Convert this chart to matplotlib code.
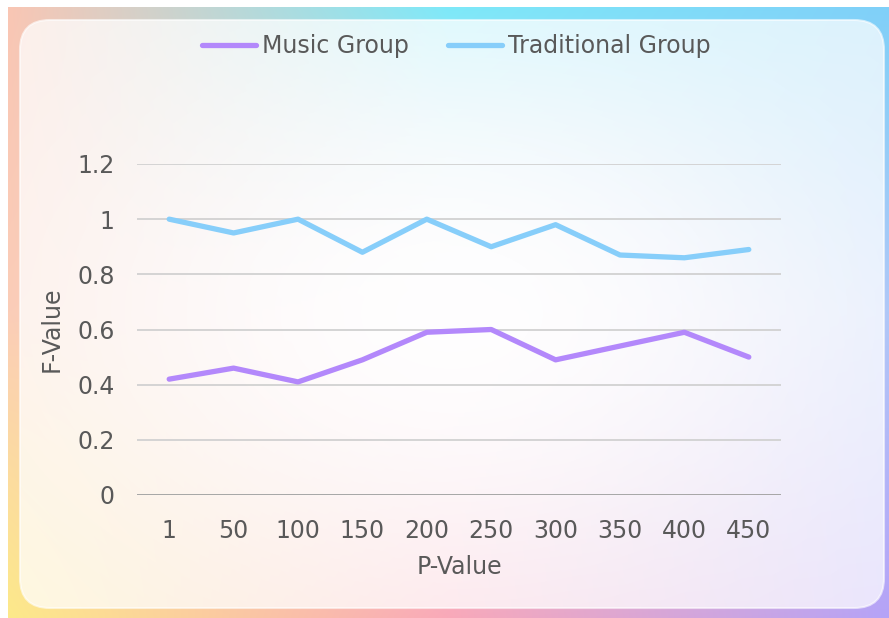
"""
Figure: F-Value by P-Value, music group vs traditional group
"""
# --------------------------------------------------------------------------------
# 1.Import modular
# --------------------------------------------------------------------------------
import matplotlib.pyplot as plt
import numpy as np
from matplotlib.colors import to_rgb
from matplotlib.patches import FancyBboxPatch


# --------------------------------------------------------------------------------
# 2.Define variable
# --------------------------------------------------------------------------------
# data
P_VALUES = ["1", "50", "100", "150", "200", "250", "300", "350", "400", "450"]
MUSIC_GROUP = [0.42, 0.46, 0.41, 0.49, 0.59, 0.60, 0.49, 0.54, 0.59, 0.50]
TRADITIONAL_GROUP = [1.00, 0.95, 1.00, 0.88, 1.00, 0.90, 0.98, 0.87, 0.86, 0.89]
SERIES_NAMES = ["Music Group", "Traditional Group"]
Y_TICKS = [0, 0.2, 0.4, 0.6, 0.8, 1.0, 1.2]
Y_TICK_LABELS = ["0", "0.2", "0.4", "0.6", "0.8", "1", "1.2"]

# plot
COLOR_MUSIC = "#b388fb"
COLOR_TRADITIONAL = "#87cefa"
COLOR_TEXT = "#595959"
COLOR_GRID = "#d4d4d4"
COLOR_AXIS = "#a6a6a6"
FONT_SIZE = 17
PLOT_DPI = 100
PLOT_W = 889
PLOT_H = 618

# background gradient (3x3 grid, rows top->bottom, cols left->right)
BG_GRID = [["#f9c6b4", "#7ee9f9", "#80d0f8"],
           ["#fbcdb8", "#f2d6e6", "#b0c8f8"],
           ["#fde98a", "#f9a9b9", "#b5a3f7"]]


# --------------------------------------------------------------------------------
# 3.Define function
# --------------------------------------------------------------------------------
def make_gradient(nx, ny):
    grid = np.array([[to_rgb(c) for c in row] for row in BG_GRID])
    xs = np.linspace(0, 1, nx)
    ys = np.linspace(0, 1, ny)
    knots = [0, 0.5, 1]
    img = np.zeros((ny, nx, 3))
    for ch in range(3):
        rows = np.array([np.interp(xs, knots, grid[r, :, ch]) for r in range(3)])
        for i in range(nx):
            img[:, i, ch] = np.interp(ys, knots, rows[:, i])
    return img


def draw_background(fig):
    bg = fig.add_axes([0, 0, 1, 1], zorder=0)
    bg.set_xlim(0, PLOT_W)
    bg.set_ylim(PLOT_H, 0)
    bg.axis("off")

    bg.imshow(make_gradient(300, 220), extent=(8, PLOT_W, PLOT_H, 7),
              aspect="auto", interpolation="bilinear")

    # rounded translucent panel
    px, py, pw, ph = 20, 20, 864, 588
    panel = FancyBboxPatch((px, py), pw, ph, boxstyle="round,pad=0,rounding_size=30",
                           facecolor="none", edgecolor=(1, 1, 1, 0.6), linewidth=1.5)
    bg.add_patch(panel)

    u = np.linspace(0, 1, 300)[None, :]
    v = np.linspace(0, 1, 220)[:, None]
    alpha = 0.72 + 0.26 * np.exp(-((u - 0.5) / 0.38) ** 2 - ((v - 0.5) / 0.38) ** 2)
    overlay = np.ones((220, 300, 4))
    overlay[..., 3] = alpha
    im = bg.imshow(overlay, extent=(px, px + pw, py + ph, py), aspect="auto",
                   interpolation="bilinear")
    im.set_clip_path(panel)


def draw_chart():
    fig = plt.figure(figsize=(PLOT_W / PLOT_DPI, PLOT_H / PLOT_DPI), dpi=PLOT_DPI)
    draw_background(fig)

    ax = fig.add_axes([137 / PLOT_W, 1 - 495 / PLOT_H, 644 / PLOT_W, 331 / PLOT_H], zorder=2)
    ax.patch.set_alpha(0)

    x = np.arange(len(P_VALUES))
    l1, = ax.plot(x, MUSIC_GROUP, color=COLOR_MUSIC, linewidth=3.8,
                  solid_capstyle="round", solid_joinstyle="round", zorder=3)
    l2, = ax.plot(x, TRADITIONAL_GROUP, color=COLOR_TRADITIONAL, linewidth=3.8,
                  solid_capstyle="round", solid_joinstyle="round", zorder=3)

    # axes setting
    ax.set_xlim(-0.5, len(P_VALUES) - 0.5)
    ax.set_ylim(0, 1.2)
    ax.set_xticks(x)
    ax.set_xticklabels(P_VALUES)
    ax.set_yticks(Y_TICKS)
    ax.set_yticklabels(Y_TICK_LABELS)
    ax.tick_params(axis="both", length=0, labelsize=FONT_SIZE, labelcolor=COLOR_TEXT)
    ax.tick_params(axis="x", pad=17)
    ax.tick_params(axis="y", pad=16)
    for s in ax.spines.values():
        s.set_visible(False)
    for yv in Y_TICKS[1:]:
        ax.axhline(yv, color=COLOR_GRID, linewidth=1.4, zorder=1)
    ax.axhline(0, color=COLOR_AXIS, linewidth=1.4, zorder=1)

    ax.set_xlabel("P-Value", fontsize=FONT_SIZE, color=COLOR_TEXT, labelpad=9)
    ax.set_ylabel("F-Value", fontsize=FONT_SIZE, color=COLOR_TEXT, labelpad=10)

    # legend
    fig.legend([l1, l2], SERIES_NAMES, loc="center", bbox_to_anchor=(456.5 / PLOT_W, 1 - 46 / PLOT_H),
               ncol=2, frameon=False, fontsize=FONT_SIZE, labelcolor=COLOR_TEXT,
               handlelength=2.3, handletextpad=0.25, columnspacing=1.65)

    fig.savefig("out.png", dpi=PLOT_DPI)
    plt.close(fig)


# --------------------------------------------------------------------------------
# 4.Main function
# --------------------------------------------------------------------------------
if __name__ == "__main__":
    draw_chart()
